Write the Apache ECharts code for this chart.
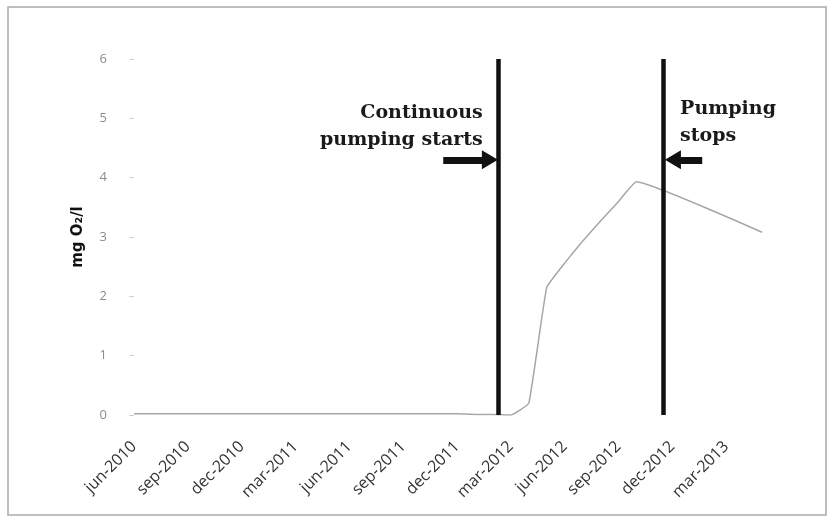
<!DOCTYPE html>
<html><head><meta charset="utf-8">
<script src="https://cdn.jsdelivr.net/npm/echarts@6/dist/echarts.min.js"></script>
<style>html,body{margin:0;padding:0;background:#fff}#c{width:831px;height:520px}</style>
</head><body><div id="c"></div>
<script>
// ---- data ----
const sampleDates = [
  '2010-06','2010-07','2010-08','2010-09','2010-10','2010-11','2010-12',
  '2011-01','2011-02','2011-03','2011-04','2011-05','2011-06','2011-07',
  '2011-08','2011-09','2011-10','2011-11','2011-12','2012-01','2012-02',
  '2012-03','2012-04','2012-05','2012-06','2012-07','2012-08','2012-09',
  '2012-10','2013-05'
];
const o2Values = [
  0.02,0.02,0.02,0.02,0.02,0.02,0.02,
  0.02,0.02,0.02,0.02,0.02,0.02,0.02,
  0.02,0.02,0.02,0.02,0.02,0.01,0.01,
  0.0,0.2,2.15,2.56,2.93,3.27,3.6,
  3.93,3.08
];
const tickLabels = ['jun-2010','sep-2010','dec-2010','mar-2011','jun-2011','sep-2011',
  'dec-2011','mar-2012','jun-2012','sep-2012','dec-2012','mar-2013'];
const eventDates = ['2012-02-10','2012-11-16'];           // pumping starts, pumping stops
const eventTexts = ['Continuous\npumping starts','Pumping\nstops'];
const eventTextPos = [['2012-01-14',4.86],['2012-12-14',4.93]];
const arrowLevel = 4.3;
const arrowTails = ['2011-11-08','2013-01-21'];
const arrowTips  = ['2012-01-26','2012-12-02'];

// months since jun-2010
function monthOffset(s){
  const p = s.split('-').map(Number);
  return (p[0]-2010)*12 + (p[1]-6) + ((p[2]||1)-1)/30;
}
const lineData = sampleDates.map((d,i)=>[monthOffset(d), o2Values[i]]);

const chart = echarts.init(document.getElementById('c'));
chart.setOption({
  backgroundColor:'#fff',
  animation:false,
  grid:{left:134,right:51,top:59,bottom:105},
  xAxis:{
    type:'value', min:0, max:36, interval:3,
    axisLine:{show:false}, axisTick:{show:false}, splitLine:{show:false},
    axisLabel:{
      rotate:45, margin:29, color:'#333', fontSize:16, fontFamily:'Open Sans',
      formatter:v=>{const i=Math.round(v/3); return (v%3===0 && tickLabels[i])?tickLabels[i]:'';}
    }
  },
  yAxis:{
    type:'value', min:0, max:6, interval:1, offset:6,
    axisLine:{show:false},
    axisTick:{show:true,length:5,lineStyle:{color:'#cfcfcf'}},
    splitLine:{show:false},
    axisLabel:{margin:21,color:'#8c8c8c',fontSize:13,fontFamily:'Open Sans'},
    name:'mg O\u2082/l', nameLocation:'middle', nameGap:42,
    nameTextStyle:{fontFamily:'DejaVu Sans',fontWeight:'bold',fontSize:15,color:'#111'}
  },
  graphic:[{type:'rect',shape:{x:8,y:7,width:818,height:508},
    style:{fill:null,stroke:'#aaaaaa',lineWidth:1.5},silent:true}],
  series:[{
    type:'line', data:lineData, smooth:0.1, showSymbol:false,
    lineStyle:{color:'#a6a6a6',width:1.5},
    markLine:{
      silent:true, animation:false, label:{show:false}, symbol:['none','none'],
      data:[
        ...eventDates.map(d=>({xAxis:monthOffset(d),
          lineStyle:{color:'#111',width:4.5,type:'solid'}})),
        ...arrowTails.map((t,i)=>[
          {coord:[monthOffset(t),arrowLevel],symbol:'none',
            lineStyle:{color:'#111',width:7,type:'solid'}},
          {coord:[monthOffset(arrowTips[i]),arrowLevel],symbol:'triangle',symbolSize:[19,16]}
        ])
      ]
    },
    markPoint:{
      silent:true, symbolSize:0,
      data:eventTexts.map((t,i)=>({name:t,coord:[monthOffset(eventTextPos[i][0]),eventTextPos[i][1]],
        label:{position:i===0?'left':'right',distance:0}})),
      label:{show:true,formatter:p=>p.name,fontFamily:'DejaVu Serif',fontWeight:'bold',
        fontSize:19,lineHeight:27,color:'#1a1a1a'}
    }
  }]
});
</script></body></html>
